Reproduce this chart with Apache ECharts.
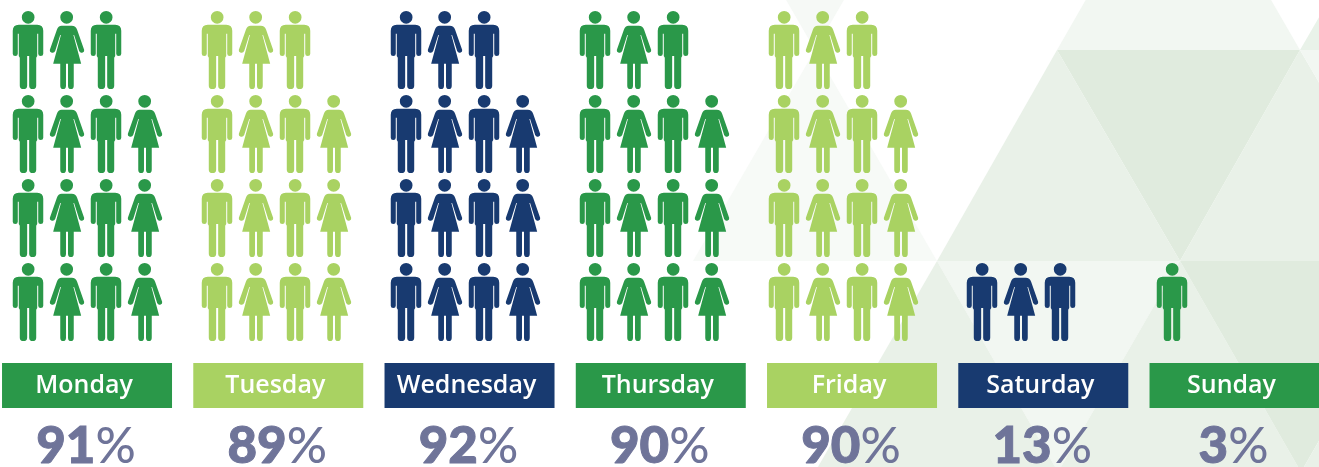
<!DOCTYPE html>
<html>
<head>
<meta charset="utf-8">
<title>Weekday attendance</title>
<style>
  html, body { margin: 0; padding: 0; background: #fff; }
  #chart { width: 1319px; height: 467px; }
</style>
<script src="https://cdn.jsdelivr.net/npm/echarts@6/dist/echarts.min.js"></script>
</head>
<body>
<div id="chart"></div>
<script>
const days = ["Monday", "Tuesday", "Wednesday", "Thursday", "Friday", "Saturday", "Sunday"];
const percents = [91, 89, 92, 90, 90, 13, 3];
const peopleCounts = [15, 15, 15, 15, 15, 3, 1];

const GREEN = "#2a9849";
const LIME = "#a9d262";
const NAVY = "#183a70";
const dayColors = [GREEN, LIME, NAVY, GREEN, LIME, NAVY, GREEN];

// left-most figure centre of each day, figures are not quite centred over the bands
const groupX = [28, 217, 406, 595, 784, 982, 1172];
const colStep = 39;
const perRow = 4;

const MAN = "path://M27 19a19 19 0 1 0 38 0a19 19 0 1 0 -38 0z" +
  "M18 41H73Q91 41 91 59V128Q91 135 83.5 135Q76 135 76 128V68H73V135L70 140V224Q70 234 59.5 234Q49 234 49 224V135H43V224Q43 234 32 234Q21 234 21 224V140L18 135V68H15V128Q15 135 7.5 135Q0 135 0 128V59Q0 41 18 41Z";
const WOMAN = "path://M32 19a19 19 0 1 0 38 0a19 19 0 1 0 -38 0z" +
  "M36 44H66Q78 44 82 56L103 117Q104 124 97 125Q91 127 88 120L73 72H71L94 158H72V224Q72 234 63.5 234Q55 234 55 224V158H49V224Q49 234 40.5 234Q32 234 32 224V158H11L34 72H32L17 120Q14 127 7 125Q0 124 1 117L22 56Q26 44 36 44Z";

// background triangle lattice: [fill, x1,y1, x2,y2, x3,y3]
const triangles = [
  ["#f6f9f6", 693, -161, 937, -161, 815, 50],
  ["#f7faf7", 815, 50, 693, 261, 937, 261],
  ["#f2f7f2", 1178, -161, 1057, 50, 1300, 50],
  ["#e9f2e9", 1300, 50, 1422, -161, 1543, 50],
  ["#e0ebde", 1057, 50, 1300, 50, 1180, 261],
  ["#e9f1e8", 1057, 50, 937, 261, 1180, 261],
  ["#e9f1e8", 1300, 50, 1180, 261, 1423, 261],
  ["#f2f7f2", 1300, 50, 1543, 50, 1423, 261],
  ["#f2f7f2", 937, 261, 1180, 261, 1058, 472],
  ["#e9f1e8", 937, 261, 815, 472, 1058, 472],
  ["#e9f1e8", 1180, 261, 1058, 472, 1301, 472],
  ["#e0ebde", 1180, 261, 1423, 261, 1301, 472],
  ["#e9f1e8", 1423, 261, 1301, 472, 1543, 472]
];

const people = [];
peopleCounts.forEach((count, d) => {
  for (let i = 0; i < count; i++) {
    const col = i % perRow;
    const row = Math.floor(i / perRow);
    people.push({
      value: [groupX[d] + col * colStep, row + 0.5],
      symbol: col % 2 ? WOMAN : MAN,
      symbolSize: col % 2 ? [34.5, 78] : [30.5, 78],
      itemStyle: { color: dayColors[d], opacity: 1 }
    });
  }
});

const chart = echarts.init(document.getElementById("chart"));
chart.setOption({
  animation: false,
  backgroundColor: "#fff",
  textStyle: { fontFamily: "Lato" },
  graphic: {
    elements: triangles.map(t => ({
      type: "polygon",
      z: -10,
      silent: true,
      shape: { points: [[t[1], t[2]], [t[3], t[4]], [t[5], t[6]]] },
      style: { fill: t[0] }
    }))
  },
  grid: [
    { left: 0, top: 8, width: 1319, height: 336, outerBoundsMode: "none" },
    { left: -8.6, top: 363, width: 1338.75, height: 45, outerBoundsMode: "none" }
  ],
  xAxis: [
    { type: "value", gridIndex: 0, min: 0, max: 1319, show: false },
    {
      type: "category",
      gridIndex: 1,
      data: days,
      axisLine: { show: false },
      axisTick: { show: false },
      axisLabel: {
        interval: 0,
        margin: 13,
        padding: [0, 2, 0, 0],
        formatter: (v, i) => `{n|${percents[i]}}{p|%}`,
        rich: {
          n: { fontFamily: "Lato", fontWeight: 900, fontSize: 51, color: "#6f7499", lineHeight: 52, textBorderColor: "#6f7499", textBorderWidth: 1 },
          p: { fontFamily: "Lato", fontWeight: 500, fontSize: 50, color: "#6f7499", lineHeight: 52 }
        }
      }
    }
  ],
  yAxis: [
    { type: "value", gridIndex: 0, min: 0, max: perRow, show: false },
    { type: "value", gridIndex: 1, min: 0, max: 1, show: false }
  ],
  series: [
    {
      type: "scatter",
      xAxisIndex: 0,
      yAxisIndex: 0,
      data: people
    },
    {
      type: "bar",
      xAxisIndex: 1,
      yAxisIndex: 1,
      barWidth: 170,
      data: days.map((d, i) => ({ value: 1, itemStyle: { color: dayColors[i] } })),
      label: {
        show: true,
        position: "inside",
        offset: [-3, 0],
        formatter: p => p.name,
        color: "#fff",
        fontFamily: "Open Sans",
        fontWeight: 600,
        fontSize: 25
      }
    }
  ]
});
</script>
</body>
</html>
